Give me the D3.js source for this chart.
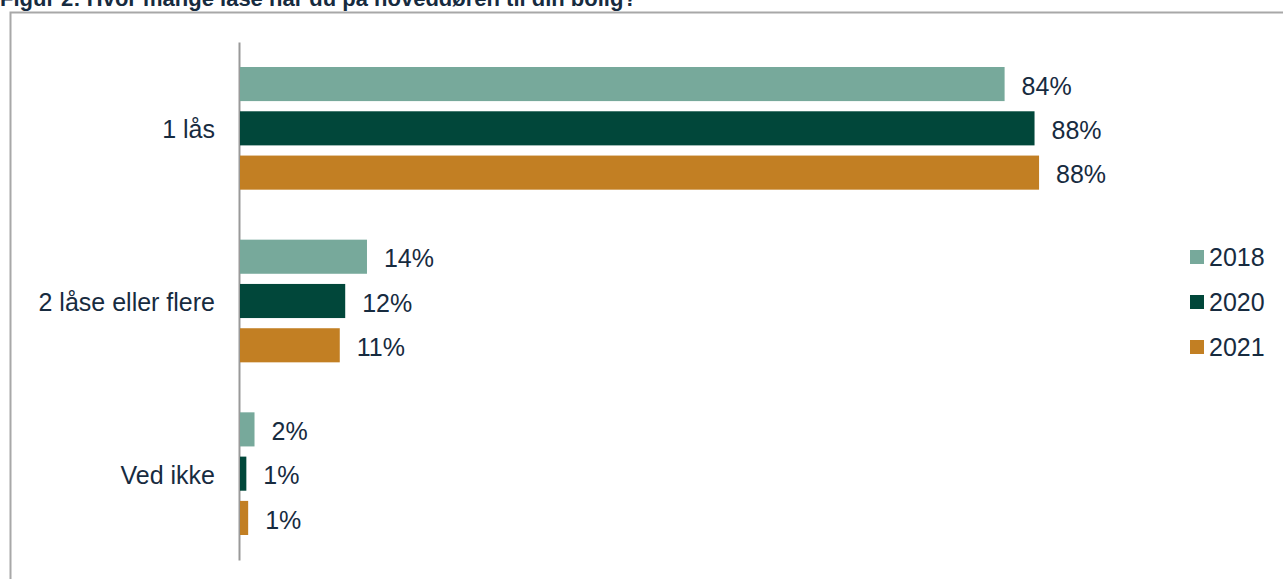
<!DOCTYPE html>
<html>
<head>
<meta charset="utf-8">
<script src="https://cdn.jsdelivr.net/npm/d3@7"></script>
<style>
  body { margin: 0; background: #fff; }
  svg { display: block; font-family: "Liberation Sans", Arial, sans-serif; }
</style>
</head>
<body>
<div id="chart"></div>
<script>
// data
var categories = ["1 lås", "2 låse eller flere", "Ved ikke"];
var years = ["2018", "2020", "2021"];
var values2018 = [84.3, 14.0, 1.6];
var values2020 = [87.6, 11.6, 0.7];
var values2021 = [88.1, 11.0, 0.9];
var colors = ["#77a99b", "#01473a", "#c27f23"];
var title = "Figur 2: Hvor mange låse har du på hoveddøren til din bolig?";

var series = [values2018, values2020, values2021];

var W = 1283, H = 579;
var textColor = "#172b3f";
var fontSize = "25px";

var svg = d3.select("#chart")
  .append("svg")
    .attr("width", W)
    .attr("height", H);

// title (partly cut at the top, as in the original)
svg.append("text")
  .attr("x", 0)
  .attr("y", 6)
  .text(title)
  .style("font-size", "22px")
  .style("font-weight", "bold")
  .style("fill", textColor);

// frame
svg.append("path")
  .attr("d", "M10.5," + H + "V12.5H" + W)
  .attr("fill", "none")
  .attr("stroke", "#a8a8a8")
  .attr("stroke-width", 2);

// scales
var x = d3.scaleLinear()
  .domain([0, 100])
  .range([240, 1147]);

var y = d3.scaleBand()
  .domain(categories)
  .range([42, 560]);

var inner = d3.scaleBand()
  .domain(years)
  .range([25, y.bandwidth() - 25])
  .paddingInner(0.23);

// axis
var yAxis = svg.append("g")
  .attr("transform", "translate(239,0)")
  .call(d3.axisLeft(y).tickSize(0).tickPadding(24));

yAxis.select(".domain")
  .attr("stroke", "#999")
  .attr("stroke-width", 2);
yAxis.selectAll("text")
  .attr("dy", "0.4em")
  .style("font-size", fontSize)
  .style("font-family", "Liberation Sans, Arial, sans-serif")
  .style("fill", textColor);

// bars
years.forEach(function(yr, i) {
  var g = svg.append("g");
  g.selectAll("rect")
    .data(series[i])
    .enter()
    .append("rect")
      .attr("x", x(0))
      .attr("y", function(d, j) { return y(categories[j]) + inner(yr); })
      .attr("width", function(d) { return x(d) - x(0); })
      .attr("height", inner.bandwidth())
      .style("fill", colors[i]);

  g.selectAll("text")
    .data(series[i])
    .enter()
    .append("text")
      .attr("x", function(d) { return x(d) + 17; })
      .attr("y", function(d, j) { return y(categories[j]) + inner(yr) + inner.bandwidth() / 2 + 2; })
      .attr("dy", "0.35em")
      .text(function(d) { return d3.format(".0f")(d) + "%"; })
      .style("font-size", fontSize)
      .style("fill", textColor);
});

// legend
var legend = svg.append("g")
  .attr("transform", "translate(1190,0)");

years.forEach(function(yr, i) {
  var cy = 257 + i * 45;
  legend.append("rect")
    .attr("x", 0)
    .attr("y", cy - 7)
    .attr("width", 14)
    .attr("height", 14)
    .style("fill", colors[i]);
  legend.append("text")
    .attr("x", 19)
    .attr("y", cy)
    .attr("dy", "0.35em")
    .text(yr)
    .style("font-size", fontSize)
    .style("fill", textColor);
});
</script>
</body>
</html>
